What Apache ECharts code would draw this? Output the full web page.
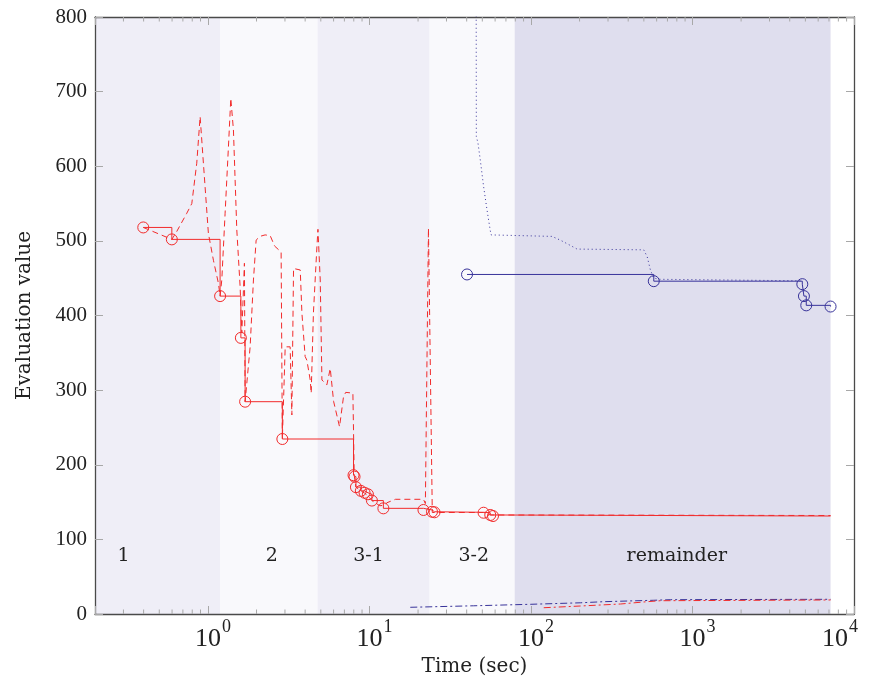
<!DOCTYPE html>
<html><head><meta charset="utf-8">
<script src="https://cdn.jsdelivr.net/npm/echarts@6/dist/echarts.min.js"></script>
<style>html,body{margin:0;padding:0;background:#fff}#c{width:875px;height:692px}</style>
</head><body><div id="c"></div>
<script>
// ---- regions (background bands) ----
const regionNames = ['1', '2', '3-1', '3-2', 'remainder'];
const regionStart = [0.05, 1.19, 4.77, 23.6, 79.3];
const regionEnd = [1.19, 4.77, 23.6, 79.3, 7160];
const regionLabelT = [0.3, 2.49, 9.87, 44.2, 800];
const regionLabelV = 78;
const regionColors = ['#efeef7', '#f9f9fc', '#efeef7', '#f9f9fc', '#dfdeee'];

// ---- axis ticks ----
const xMajorTicks = [1, 10, 100, 1000, 10000];
const xMajorExp = ['0', '1', '2', '3', '4'];
const xMinorTicks = [0.3, 0.4, 0.5, 0.6, 0.7, 0.8, 0.9,
  2, 3, 4, 5, 6, 7, 8, 9, 20, 30, 40, 50, 60, 70, 80, 90,
  200, 300, 400, 500, 600, 700, 800, 900, 2000, 3000, 4000, 5000, 6000, 7000, 8000, 9000];
const yTickValues = [0, 100, 200, 300, 400, 500, 600, 700, 800];

// ---- red: best-so-far (solid step, circles) ----
const redBestT = [0.398, 0.598, 1.19, 1.60, 1.70, 2.89, 7.97, 8.09, 8.25, 8.85, 9.33, 9.79, 10.36, 12.2, 21.6, 24.4, 25.3, 50.9, 56.0, 58.2, 7160];
const redBestV = [518, 502, 426, 370, 284.5, 234.5, 186, 184, 170, 165, 162.5, 160.4, 152, 141.6, 139.4, 137, 136.3, 135.7, 132.7, 131.3, 131.3];

// ---- red: current evaluation (dashed) ----
const redCurT = [0.398, 0.598, 0.641, 0.740, 0.795, 0.853, 0.895, 0.938, 1.007, 1.082, 1.162, 1.19,
  1.219, 1.278, 1.340, 1.386, 1.439, 1.474, 1.510, 1.583, 1.622, 1.683, 1.70, 1.826, 1.914, 1.989,
  2.10, 2.26, 2.43, 2.59, 2.84, 2.89, 3.01, 3.23, 3.31, 3.39, 3.73, 3.82, 4.00, 4.10, 4.30, 4.36,
  4.50, 4.73, 4.80, 4.96, 5.08, 5.45, 5.72, 6.00, 6.53, 6.91, 7.13, 7.90, 7.97, 8.05, 8.25, 8.85,
  9.33, 9.79, 10.36, 11.6, 12.5, 12.8, 14.5, 21.6, 22.2, 23.2, 23.8, 24.5, 25.3, 50.9, 56.0, 7160];
const redCurV = [518, 502, 512.5, 537, 550, 604, 666.5, 604, 510, 474, 443, 426,
  447.6, 537, 626, 691, 648.6, 581.6, 514.6, 438.6, 376.5, 470, 284.5, 358, 447.6, 501,
  506, 508, 507, 493, 485, 234.5, 358, 358, 266.7, 463, 461, 403, 345, 340, 313.6, 296,
  403, 492, 515.5, 447.6, 313.6, 307, 329, 285, 251, 291, 297, 296, 246.6, 186, 170, 165,
  162, 158.5, 152, 145, 146, 149, 153.7, 153.7, 148, 517, 517, 136, 136, 136, 132.7, 132];

// ---- blue: best-so-far (solid step, circles) ----
const blueBestT = [40.2, 576, 4786, 4898, 5063, 7160];
const blueBestV = [455, 446, 442, 426, 413.6, 412];

// ---- blue: current evaluation (dotted) ----
const blueCurT = [45.7, 45.9, 47.0, 48.6, 50.9, 53.5, 55.5, 56.6, 135, 152, 175, 193, 499, 524, 549, 576, 632, 4786];
const blueCurV = [1000, 640, 631, 608, 573, 541, 519, 508, 506, 501, 494, 489, 488, 479, 461, 450, 448.5, 446.5];

// ---- bottom dash-dot lines ----
const blueLowT = [17.9, 44.2, 99, 202, 282, 576, 733, 7160];
const blueLowV = [9, 11, 13, 15, 16.5, 18.4, 19.2, 19.7];
const redLowT = [120, 202, 358, 524, 634, 7160];
const redLowV = [8.4, 10.7, 13.4, 16.5, 17.8, 18.8];

const RED = '#f22b2b';
const BLUE = '#38339a';
const SERIF = 'Liberation Serif';
const TSERIF = 'DejaVu Serif';

const zip = (t, v) => t.map((x, i) => [x, v[i]]);

const chart = echarts.init(document.getElementById('c'), null, {renderer: 'canvas'});

const tickStyle = {color: '#a8a8a8', width: 1};
const axisLineStyle = {color: '#4a4a4a', width: 1.3};

const bandData = regionNames.map((n, i) => [regionStart[i], regionEnd[i], regionLabelT[i], regionLabelV, i]);

const option = {
  animation: false,
  backgroundColor: '#ffffff',
  grid: {left: 95, right: 21, top: 17, bottom: 78, containLabel: false},
  xAxis: [{
    type: 'log', logBase: 10, min: 0.2, max: 10000, position: 'bottom',
    axisLine: {show: true, onZero: false, lineStyle: axisLineStyle},
    axisTick: {show: true, inside: true, length: 8, lineStyle: tickStyle},
    splitLine: {show: false},
    minorTick: {show: false},
    axisLabel: {show: false},
    name: 'Time (sec)', nameLocation: 'middle', nameGap: 43,
    nameTextStyle: {fontFamily: TSERIF, fontSize: 20, color: '#222'}
  }, {
    type: 'log', logBase: 10, min: 0.2, max: 10000, position: 'top',
    axisLine: {show: true, onZero: false, lineStyle: axisLineStyle},
    axisTick: {show: true, inside: true, length: 8, lineStyle: tickStyle},
    splitLine: {show: false},
    axisLabel: {show: false}
  }],
  yAxis: [{
    type: 'value', min: 0, max: 800, interval: 100, position: 'left',
    axisLine: {show: true, onZero: false, lineStyle: axisLineStyle},
    axisTick: {show: true, inside: true, length: 8, lineStyle: tickStyle},
    splitLine: {show: false},
    axisLabel: {fontFamily: SERIF, fontSize: 21, color: '#222', margin: 8},
    name: 'Evaluation value', nameLocation: 'middle', nameGap: 60, nameRotate: 90,
    nameTextStyle: {fontFamily: TSERIF, fontSize: 20, color: '#222'}
  }, {
    type: 'value', min: 0, max: 800, interval: 100, position: 'right',
    axisLine: {show: true, onZero: false, lineStyle: axisLineStyle},
    axisTick: {show: true, inside: true, length: 8, lineStyle: tickStyle},
    splitLine: {show: false},
    axisLabel: {show: false}
  }],
  series: [
    {
      type: 'custom', name: 'bands', z: 0, silent: true, clip: true,
      coordinateSystem: 'cartesian2d',
      data: bandData,
      encode: {x: [0, 1], y: 3},
      renderItem: function (params, api) {
        const cs = params.coordSys;
        const idx = api.value(4);
        const p1 = api.coord([api.value(0), 0]);
        const p2 = api.coord([api.value(1), 0]);
        const x1 = Math.max(p1[0], cs.x);
        const x2 = Math.min(p2[0], cs.x + cs.width);
        const lp = api.coord([api.value(2), api.value(3)]);
        return {
          type: 'group',
          children: [{
            type: 'rect',
            shape: {x: x1, y: cs.y, width: x2 - x1, height: cs.height},
            style: {fill: regionColors[idx]}
          }, {
            type: 'text',
            x: lp[0], y: lp[1],
            style: {text: regionNames[idx], fill: '#222', font: '19px "' + TSERIF + '"', align: 'center', verticalAlign: 'middle'}
          }]
        };
      }
    },
    {
      type: 'line', name: 'blueLow', z: 3, data: zip(blueLowT, blueLowV),
      symbol: 'none', lineStyle: {color: BLUE, width: 1, type: [7, 3, 2, 3]}
    },
    {
      type: 'line', name: 'redLow', z: 3, data: zip(redLowT, redLowV),
      symbol: 'none', lineStyle: {color: RED, width: 1, type: [7, 3, 2, 3]}
    },
    {
      type: 'line', name: 'blueCur', z: 3, data: zip(blueCurT, blueCurV),
      symbol: 'none', clip: true, lineStyle: {color: BLUE, width: 1, type: [1, 3]}
    },
    {
      type: 'line', name: 'redCur', z: 4, data: zip(redCurT, redCurV),
      symbol: 'none', clip: true, lineStyle: {color: RED, width: 1, type: [6, 4]}
    },
    {
      type: 'line', name: 'blueBest', z: 5, step: 'end',
      data: zip(blueBestT, blueBestV),
      symbol: 'circle', symbolSize: 11,
      itemStyle: {color: 'rgba(0,0,0,0)', borderColor: BLUE, borderWidth: 1},
      lineStyle: {color: BLUE, width: 1}
    },
    {
      type: 'line', name: 'redBest', z: 5, step: 'end',
      data: zip(redBestT, redBestV).map((p, i, a) => i === a.length - 1 ? {value: p, symbol: 'none'} : p),
      symbol: 'circle', symbolSize: 11,
      itemStyle: {color: 'rgba(0,0,0,0)', borderColor: RED, borderWidth: 1},
      lineStyle: {color: RED, width: 1}
    },
    {
      type: 'custom', name: 'minorTicks', z: 10, silent: true, clip: false,
      coordinateSystem: 'cartesian2d',
      data: xMinorTicks.map(t => [t, 0]),
      renderItem: function (params, api) {
        const cs = params.coordSys;
        const p = api.coord([api.value(0), 0]);
        const st = {stroke: '#a8a8a8', lineWidth: 1};
        return {
          type: 'group',
          children: [
            {type: 'line', shape: {x1: p[0], y1: cs.y + cs.height, x2: p[0], y2: cs.y + cs.height - 4.5}, style: st},
            {type: 'line', shape: {x1: p[0], y1: cs.y, x2: p[0], y2: cs.y + 4.5}, style: st}
          ]
        };
      }
    },
    {
      type: 'custom', name: 'xTickLabels', z: 10, silent: true, clip: false,
      coordinateSystem: 'cartesian2d',
      data: xMajorTicks.map((t, i) => [t, 0, i]),
      renderItem: function (params, api) {
        const cs = params.coordSys;
        const p = api.coord([api.value(0), 0]);
        const i = api.value(2);
        const yb = cs.y + cs.height;
        const shift = Math.max(0, p[0] + 24 - 859);
        const cx = p[0] - shift;
        return {
          type: 'group',
          children: [
            {type: 'text', x: cx + 13, y: yb + 25,
              style: {text: '10', fill: '#222', font: '26px "' + SERIF + '"', align: 'right', verticalAlign: 'middle'}},
            {type: 'text', x: cx + 14, y: yb + 13,
              style: {text: xMajorExp[i], fill: '#222', font: '18px "' + SERIF + '"', align: 'left', verticalAlign: 'middle'}}
          ]
        };
      }
    }
  ]
};
chart.setOption(option);
</script>
</body></html>
